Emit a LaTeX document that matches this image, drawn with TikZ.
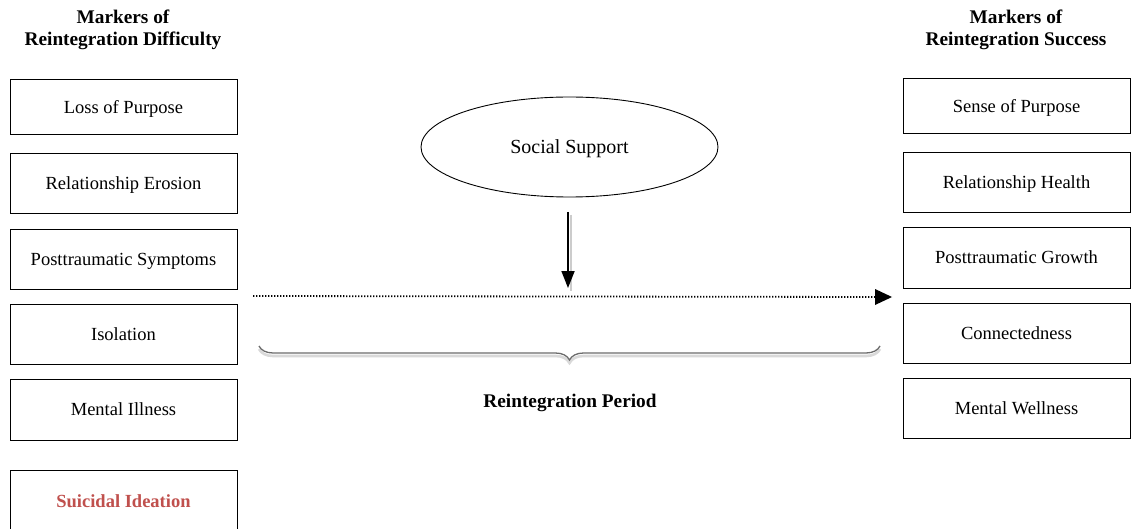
\documentclass[tikz,border=0pt]{standalone}
\usepackage{fontspec}
\setmainfont{Liberation Serif}
\usetikzlibrary{arrows.meta,decorations.pathreplacing,shapes.geometric}
\definecolor{redtxt}{RGB}{192,80,77}
\begin{document}
\begin{tikzpicture}[x=1pt,y=-1pt,
  mbox/.style={draw=black,line width=0.9pt,minimum width=227pt,inner sep=0pt,text depth=0pt,font=\fontsize{18.5}{20}\selectfont},
  head/.style={font=\bfseries\fontsize{19.3}{22}\selectfont,align=center},
  bigarrow/.style={line width=1.8pt,-{Triangle[width=13pt,length=17pt]}},
]
\useasboundingbox (0,0) rectangle (1131,529);
\fill[white] (0,0) rectangle (1131,529);
% headers
\node[head] (hl) at (123,30) {Markers of\\Reintegration Difficulty};
\node[head] (hr) at (1016,30) {Markers of\\Reintegration Success};
% left boxes
\node[mbox,minimum height=55pt] (l1) at (123.5,106.5) {Loss of Purpose};
\node[mbox,minimum height=60pt] (l2) at (123.5,183) {Relationship Erosion};
\node[mbox,minimum height=60pt] (l3) at (123.5,259) {Posttraumatic Symptoms};
\node[mbox,minimum height=60pt] (l4) at (123.5,334) {Isolation};
\node[mbox,minimum height=61pt] (l5) at (123.5,409.5) {Mental Illness};
\node[mbox,minimum height=64pt,text=redtxt,font=\bfseries\fontsize{18.5}{20}\selectfont,anchor=north] (l6) at (123.5,470) {\raisebox{3pt}{Suicidal Ideation}};
% right boxes
\node[mbox,minimum height=55pt] (r1) at (1016.5,105.5) {Sense of Purpose};
\node[mbox,minimum height=60pt] (r2) at (1016.5,182) {Relationship Health};
\node[mbox,minimum height=61pt] (r3) at (1016.5,257.5) {Posttraumatic Growth};
\node[mbox,minimum height=60pt] (r4) at (1016.5,333) {Connectedness};
\node[mbox,minimum height=60pt] (r5) at (1016.5,408) {Mental Wellness};
% social support
\node[draw=black,line width=0.9pt,ellipse,minimum width=297pt,minimum height=100pt,inner sep=0pt,text depth=0pt,font=\fontsize{20}{22}\selectfont] (ss) at (569.5,147) {Social Support};
\coordinate (va) at (568,212);
\coordinate (vb) at (568,288);
\draw[gray!40,line width=2.5pt] ([xshift=3pt,yshift=-3pt]va) -- ([xshift=3pt,yshift=-3pt]vb);
\draw[bigarrow] (va) -- (vb);
% dotted timeline
\coordinate (ta) at (253,296);
\coordinate (tb) at (892,297);
\draw[line width=1.8pt,dash pattern=on 1.4pt off 1.6pt] (ta) -- ([xshift=-16pt]tb);
\fill[black] (tb) -- ++(-17,-8) -- ++(0,16) -- cycle;
% brace
\coordinate (ba) at (259,346);
\coordinate (bb) at (880,346);
\draw[gray!30,line width=2.6pt,decorate,decoration={brace,mirror,amplitude=14pt,aspect=0.5}] ([yshift=-3pt]ba) -- ([yshift=-3pt]bb);
\draw[gray!85!black,line width=1.3pt,decorate,decoration={brace,mirror,amplitude=14pt,aspect=0.5}] (ba) -- (bb);
\node[head] (rp) at (570,403) {Reintegration Period};
\end{tikzpicture}
\end{document}
